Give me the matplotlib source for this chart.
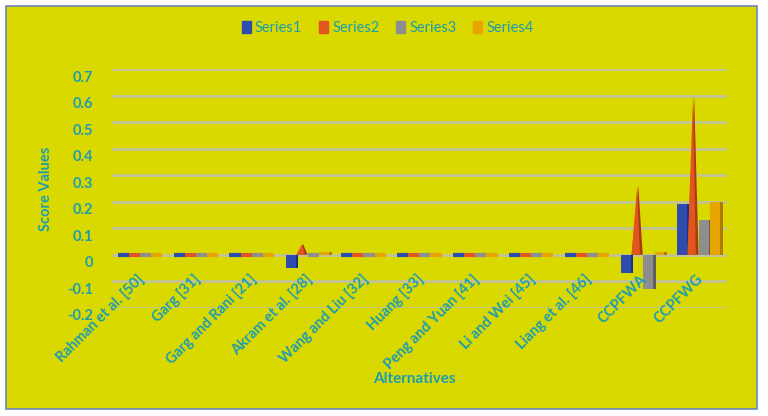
"""Grouped score chart for the aggregation operators compared against prior work."""

import matplotlib.pyplot as plt
from matplotlib.patches import Polygon, Rectangle
from matplotlib.transforms import ScaledTranslation

categories = [
    'Rahman et al. [50]', 'Garg [31]', 'Garg and Rani [21]', 'Akram et al. [28]',
    'Wang and Liu [32]', 'Huang [33]', 'Peng and Yuan [41]', 'Li and Wei [45]',
    'Liang et al. [46]', 'CCPFWA', 'CCPFWG',
]
series_names = ['Series1', 'Series2', 'Series3', 'Series4']
series1 = [0, 0, 0, -0.05, 0, 0, 0, 0, 0, -0.07, 0.19]
series2 = [0, 0, 0, 0.04, 0, 0, 0, 0, 0, 0.26, 0.60]
series3 = [0, 0, 0, 0, 0, 0, 0, 0, 0, -0.13, 0.13]
series4 = [0, 0, 0, 0.01, 0, 0, 0, 0, 0, 0.01, 0.20]
y_ticks = [-0.2, -0.1, 0, 0.1, 0.2, 0.3, 0.4, 0.5, 0.6, 0.7]

colors = ['#2E4BAE', '#E0561E', '#8E8E8E', '#E8A400']
sides = ['#1C3080', '#A83A10', '#5E5E5E', '#B07C00']
teal = '#1C9DB0'
yellow = '#D9D900'
font = 'Lato'

fig = plt.figure(figsize=(7.68, 4.16), dpi=100, facecolor='white')
fig.patches.append(Rectangle((0.008, 0.018), 0.978, 0.968, transform=fig.transFigure,
                             facecolor=yellow, edgecolor='#6F86B8', linewidth=1.2,
                             zorder=-1))

ax = fig.add_axes([0.146, 0.26, 0.80, 0.574])
ax.set_facecolor('none')
ax.set_xlim(-0.5, len(categories) - 0.5)
ax.set_ylim(-0.2, 0.7)
for s in ax.spines.values():
    s.set_visible(False)

for t in y_ticks:
    ax.axhline(t, color='#C2C294', linewidth=2, zorder=0)

width = 0.2
offsets = [-0.3, -0.1, 0.1, 0.3]
all_series = [series1, series2, series3, series4]
for k, values in enumerate(all_series):
    for i, v in enumerate(values):
        x = i + offsets[k]
        if v == 0:
            ax.plot([x - width / 2, x + width / 2], [0, 0], color=colors[k],
                    linewidth=3, solid_capstyle='butt', zorder=3)
            continue
        if k == 1:
            # cone-shaped marks for the second series
            ax.add_patch(Polygon([(x - width / 2, 0), (x + 0.02, v), (x + width / 2, 0)],
                                 closed=True, facecolor=sides[k], zorder=3))
            ax.add_patch(Polygon([(x - width / 2, 0), (x, v), (x + width / 4, 0)],
                                 closed=True, facecolor=colors[k], zorder=4))
        else:
            ax.bar(x + 0.03, v, width=width, color=sides[k], zorder=2)
            ax.bar(x, v, width=width * 0.88, color=colors[k], zorder=3)

ax.set_xticks([])
ax.set_yticks(y_ticks)
ax.set_yticklabels([f'{t:g}' for t in y_ticks], fontfamily=font, fontweight='bold',
                   fontsize=10.5, color=teal)
ax.tick_params(axis='y', length=0, pad=14)
shift = ScaledTranslation(0, -5 / 72, fig.dpi_scale_trans)
for lbl in ax.get_yticklabels():
    lbl.set_transform(lbl.get_transform() + shift)

for i, name in enumerate(categories):
    ax.text(i - 0.05, -0.065, name, rotation=45, rotation_mode='anchor',
            ha='right', va='top', fontfamily=font, fontweight='bold',
            fontsize=10.5, color=teal, zorder=5)

ax.set_ylabel('Score Values', fontfamily=font, fontweight='bold', fontsize=10.5,
              color=teal, labelpad=10)
fig.text(0.54, 0.09, 'Alternatives', ha='center', va='center', fontfamily=font,
         fontweight='bold', fontsize=11, color=teal)

handles = [Rectangle((0, 0), 1, 1, color=c) for c in colors]
fig.legend(handles, series_names, loc='center', bbox_to_anchor=(0.505, 0.932),
           ncol=4, frameon=False, handlelength=0.6, handleheight=0.9,
           handletextpad=0.3, columnspacing=1.15,
           prop={'family': font, 'size': 10.5},
           labelcolor=teal)

fig.savefig('out.png', dpi=100, facecolor=fig.get_facecolor())
